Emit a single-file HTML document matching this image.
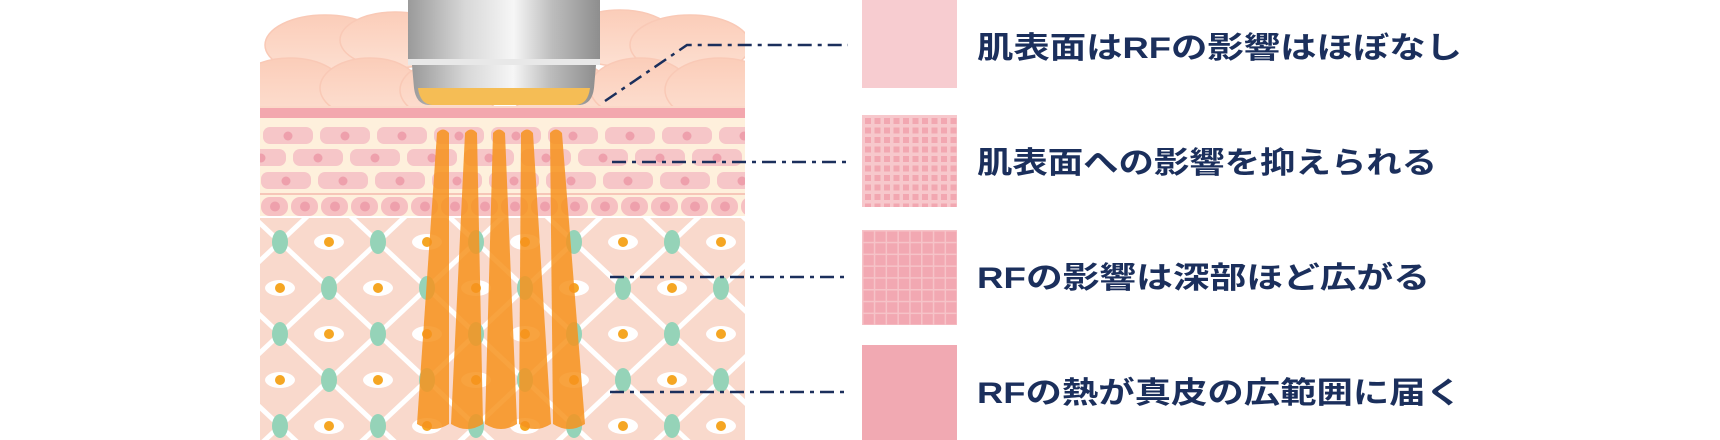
<!DOCTYPE html>
<html><head><meta charset="utf-8"><style>
html,body{margin:0;padding:0;background:#fff;width:1720px;height:440px;overflow:hidden}
svg text{font-family:"Liberation Sans","Noto Sans CJK JP",sans-serif;font-weight:700;fill:#1b2f5c;font-size:30px}
</style></head><body>
<svg width="1720" height="440" viewBox="0 0 1720 440" xmlns="http://www.w3.org/2000/svg">
<defs>
<clipPath id="ill"><rect x="260" y="0" width="485" height="440"/></clipPath>
<pattern id="derm" x="280" y="242" width="98" height="92" patternUnits="userSpaceOnUse">
<rect width="98" height="92" fill="#f9d9cc"/>
<path d="M0 0 L98 92 M98 0 L0 92" stroke="#fff" stroke-width="5"/>
<ellipse cx="0" cy="0" rx="8" ry="12" fill="#95d3b8"/><ellipse cx="98" cy="0" rx="8" ry="12" fill="#95d3b8"/>
<ellipse cx="0" cy="92" rx="8" ry="12" fill="#95d3b8"/><ellipse cx="98" cy="92" rx="8" ry="12" fill="#95d3b8"/>
<ellipse cx="49" cy="46" rx="8" ry="12" fill="#95d3b8"/>
<ellipse cx="49" cy="0" rx="15" ry="8" fill="#fff"/><circle cx="49" cy="0" r="5" fill="#f5a623"/>
<ellipse cx="49" cy="92" rx="15" ry="8" fill="#fff"/><circle cx="49" cy="92" r="5" fill="#f5a623"/>
<ellipse cx="0" cy="46" rx="15" ry="8" fill="#fff"/><circle cx="0" cy="46" r="5" fill="#f5a623"/>
<ellipse cx="98" cy="46" rx="15" ry="8" fill="#fff"/><circle cx="98" cy="46" r="5" fill="#f5a623"/>
</pattern>
<pattern id="rowA" x="262" y="126" width="57" height="22" patternUnits="userSpaceOnUse">
<rect x="1" y="1" width="50" height="17" rx="7" fill="#f6c6c8"/><circle cx="26" cy="10" r="4.5" fill="#eea0ac"/></pattern>
<pattern id="rowB" x="235" y="148" width="57" height="22" patternUnits="userSpaceOnUse">
<rect x="1" y="1" width="50" height="17" rx="7" fill="#f6c6c8"/><circle cx="26" cy="10" r="4.5" fill="#eea0ac"/></pattern>
<pattern id="rowC" x="260" y="171" width="57" height="22" patternUnits="userSpaceOnUse">
<rect x="1" y="1" width="50" height="17" rx="7" fill="#f6c6c8"/><circle cx="26" cy="10" r="4.5" fill="#eea0ac"/></pattern>
<pattern id="rowD" x="260" y="196" width="30" height="22" patternUnits="userSpaceOnUse">
<rect x="1" y="1" width="27" height="19" rx="9" fill="#f6c0c2"/><circle cx="15" cy="10.5" r="5" fill="#eea0ac"/></pattern>
<linearGradient id="metal" x1="0" x2="1"><stop offset="0" stop-color="#9a9a9a"/><stop offset=".3" stop-color="#d8d8d8"/><stop offset=".55" stop-color="#f6f6f6"/><stop offset=".75" stop-color="#bdbdbd"/><stop offset="1" stop-color="#8e8e8e"/></linearGradient>
<linearGradient id="bump" x1="0" y1="0" x2="0" y2="1"><stop offset="0" stop-color="#fbcdb9"/><stop offset="1" stop-color="#fde0d2"/></linearGradient>
<pattern id="p2" x="862" y="115" width="9.5" height="9.5" patternUnits="userSpaceOnUse"><rect width="9.5" height="9.5" fill="#f7c8cc"/><rect x="3" y="3" width="6" height="6" fill="#f2a7b1"/></pattern>
<pattern id="p3" x="862" y="230" width="11.8" height="11.8" patternUnits="userSpaceOnUse"><rect width="11.8" height="11.8" fill="#f6c3c8"/><rect x="1.5" y="1.5" width="10.3" height="10.3" fill="#f2a8b2"/></pattern>
</defs>
<g clip-path="url(#ill)">
<rect x="260" y="0" width="485" height="440" fill="#fff"/>
<!-- skin bumps -->
<g fill="url(#bump)" stroke="#f9c9b6" stroke-width="1.5">
<ellipse cx="325" cy="45" rx="60" ry="30"/>
<ellipse cx="395" cy="40" rx="55" ry="28"/>
<ellipse cx="620" cy="38" rx="55" ry="28"/>
<ellipse cx="690" cy="45" rx="60" ry="30"/>
<ellipse cx="290" cy="90" rx="55" ry="32"/>
<ellipse cx="370" cy="88" rx="50" ry="30"/>
<ellipse cx="450" cy="90" rx="50" ry="30"/>
<ellipse cx="560" cy="90" rx="50" ry="30"/>
<ellipse cx="640" cy="88" rx="50" ry="30"/>
<ellipse cx="720" cy="90" rx="55" ry="32"/>
</g>
<rect x="260" y="106" width="485" height="4" fill="#fbd8c8"/>
<rect x="260" y="108" width="485" height="10" fill="#f3a7ae"/>
<rect x="260" y="118" width="485" height="98" fill="#fef0dc"/>
<rect x="260" y="124" width="485" height="24" fill="url(#rowA)"/>
<rect x="260" y="147" width="485" height="24" fill="url(#rowB)"/>
<rect x="260" y="170" width="485" height="24" fill="url(#rowC)"/>
<rect x="260" y="193" width="485" height="2" fill="#f6c6b8"/>
<rect x="260" y="196" width="485" height="22" fill="url(#rowD)"/>
<rect x="260" y="218" width="485" height="222" fill="url(#derm)"/>
<!-- device -->
<rect x="408" y="0" width="192" height="62" fill="url(#metal)"/>
<rect x="408" y="59" width="192" height="6" fill="#e8e8e8"/>
<path d="M412 65 L596 65 L594 88 Q592 104 580 105 L428 105 Q416 104 414 88Z" fill="url(#metal)"/>
<path d="M418 88 L590 88 Q588 104 576 105 L432 105 Q420 104 418 88Z" fill="#f5bd55"/>
<!-- beams -->
<g fill="#f7931e" opacity=".85">
<path d="M437 133 Q443 126 449 133 L449 424 Q433 434 417 424 Z"/>
<path d="M465 133 Q471 126 477 133 L483 424 Q467 434 451 424 Z"/>
<path d="M493 133 Q499 126 505 133 L517 424 Q501 434 485 424 Z"/>
<path d="M521 133 Q527 126 533 133 L551 424 Q535 434 519 424 Z"/>
<path d="M550 133 Q556 126 562 133 L585 424 Q569 434 553 424 Z"/>
</g>
</g>
<!-- connectors -->
<g stroke="#1b2f5c" stroke-width="2.5" fill="none" stroke-dasharray="14 6 4 6">
<path d="M605 101 L687 45 L848 45"/>
<path d="M612 162 L848 162"/>
<path d="M610 277 L848 277"/>
<path d="M610 392 L848 392"/>
</g>
<!-- swatches -->
<rect x="862" y="0" width="95" height="88" fill="#f7ccd0"/>
<rect x="862" y="115" width="95" height="92" fill="url(#p2)"/>
<rect x="862" y="230" width="95" height="95" fill="url(#p3)"/>
<rect x="862" y="345" width="95" height="95" fill="#f1a9b2"/>
<text x="977" y="58" textLength="485" lengthAdjust="spacingAndGlyphs">肌表面はRFの影響はほぼなし</text>
<text x="977" y="173" textLength="460" lengthAdjust="spacingAndGlyphs">肌表面への影響を抑えられる</text>
<text x="977" y="288" textLength="453" lengthAdjust="spacingAndGlyphs">RFの影響は深部ほど広がる</text>
<text x="977" y="403" textLength="485" lengthAdjust="spacingAndGlyphs">RFの熱が真皮の広範囲に届く</text>
</svg>
</body></html>
